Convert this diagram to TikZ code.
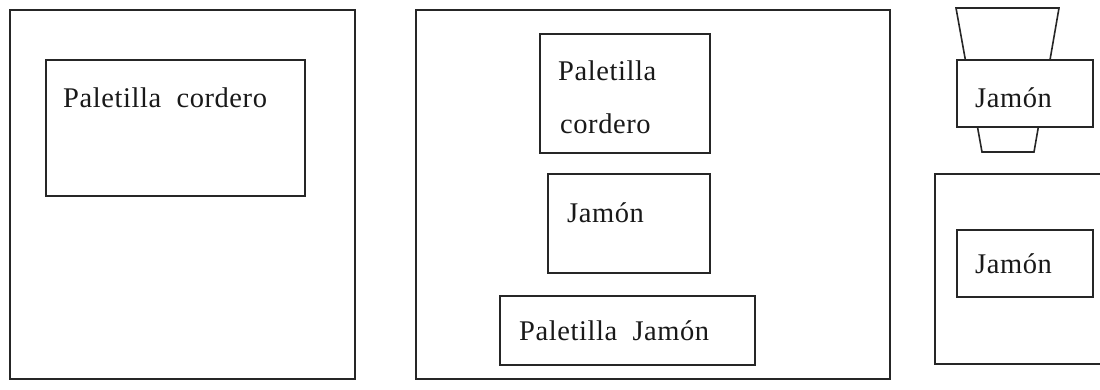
\documentclass[tikz,border=0pt]{standalone}
\usepackage{fontspec}
\setmainfont{Liberation Serif}[LetterSpace=2]
\begin{document}
\begin{tikzpicture}[x=1pt,y=-1pt,
  box/.style={draw=black!85,line width=1.6pt,fill=white,inner sep=0pt,anchor=north west},
  lbl/.style={anchor=base west,inner sep=0pt,font=\fontsize{28.5}{31}\selectfont,text=black!90}]
\useasboundingbox (0,0) rectangle (1100,389);
\clip (0,0) rectangle (1100,389);
% left panel
\node[box,minimum width=345pt,minimum height=369pt] (left) at (9,9) {};
\node[box,minimum width=259pt,minimum height=136pt] (lpc) at (45,59) {};
\node[lbl] (tlpc) at (63,107) {Paletilla\ \ cordero};
% middle panel
\node[box,minimum width=474pt,minimum height=369pt] (mid) at (415,9) {};
\node[box,minimum width=170pt,minimum height=119pt] (mpc) at (539,33) {};
\node[lbl] (tmp1) at (558,80) {Paletilla};
\node[lbl] (tmp2) at (560,133) {cordero};
\node[box,minimum width=162pt,minimum height=99pt] (mj) at (547,173) {};
\node[lbl] (tmj) at (567,222) {Jamón};
\node[box,minimum width=255pt,minimum height=69pt] (mpj) at (499,295) {};
\node[lbl] (tmpj) at (519,340) {Paletilla\ \ Jamón};
% right top: cup behind box
\coordinate (c1) at (956,8);
\coordinate (c2) at (1059,8);
\coordinate (c3) at (1034,152);
\coordinate (c4) at (982,152);
\draw[draw=black!85,line width=1.6pt] (c1) -- (c2) -- (c3) -- (c4) -- cycle;
\node[box,minimum width=136pt,minimum height=67pt] (rj1) at (956,59) {};
\node[lbl] (trj1) at (975,107) {Jamón};
% right bottom
\node[box,minimum width=180pt,minimum height=190pt] (rb) at (934,173) {};
\node[box,minimum width=136pt,minimum height=67pt] (rj2) at (956,229) {};
\node[lbl] (trj2) at (975,273) {Jamón};
\end{tikzpicture}
\end{document}
